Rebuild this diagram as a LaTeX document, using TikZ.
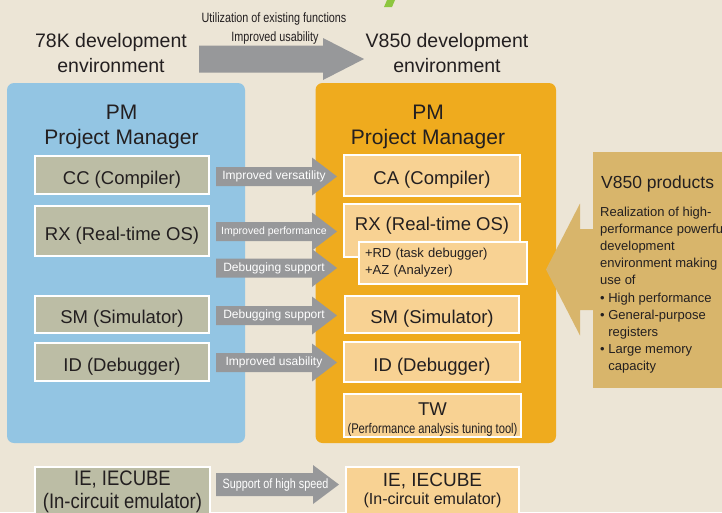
\documentclass[tikz,border=0pt]{standalone}
\usepackage{fontspec}
\setmainfont{Liberation Sans}
\newfontfamily\narrowfont[FakeStretch=0.8]{Liberation Sans}
\newfontfamily\iefont[FakeStretch=0.88]{Liberation Sans}

\definecolor{bgbeige}{RGB}{236,229,214}
\definecolor{pmblue}{RGB}{147,197,227}
\definecolor{pmorange}{RGB}{239,171,30}
\definecolor{oldbox}{RGB}{188,189,165}
\definecolor{newbox}{RGB}{248,210,147}
\definecolor{arrowgray}{RGB}{151,152,154}
\definecolor{prodgold}{RGB}{216,181,107}
\definecolor{leafgreen}{RGB}{141,198,63}
\definecolor{textdark}{RGB}{35,31,32}

\newcommand{\garrow}[7]{\fill[#7] (#1,#4-#5) -- (#2,#4-#5) -- (#2,#4-#6) -- (#3,#4) -- (#2,#4+#6) -- (#2,#4+#5) -- (#1,#4+#5) -- cycle;}

\tikzset{
  envtitle/.style={align=center, font=\fontsize{19.5}{25}\selectfont},
  pmtitle/.style={align=center, font=\fontsize{21}{25.7}\selectfont},
  pmpanel/.style={rounded corners=7pt, inner sep=0pt},
  oldtool/.style={draw=white, line width=1.2pt, fill=oldbox, inner sep=0pt, font=\fontsize{18.5}{22}\selectfont},
  newtool/.style={oldtool, fill=newbox},
  toolname/.style={text height=18pt, text depth=0pt},
  arrowlabel/.style={text=white, inner sep=0pt, font=\fontsize{12}{14}\selectfont},
  toplabel/.style={inner sep=0pt, font=\narrowfont\fontsize{13.5}{16}\selectfont}
}

\begin{document}
\begin{tikzpicture}[x=1pt, y=-1pt, text=textdark]
\useasboundingbox[fill=bgbeige] (0,0) rectangle (722,512);
\fill[leafgreen] (387,0) -- (395,0) -- (392,7) -- (384,7) -- cycle;

\node[envtitle] (oldenv) at (111,53) {78K development\\environment};
\node[envtitle] (newenv) at (447,53) {V850 development\\environment};
\garrow{199}{323}{364}{59}{13.5}{21}{arrowgray}
\node[toplabel] (reuse) at (274,19) {Utilization of existing functions};
\node[toplabel] (easier) at (275,38) {Improved usability};

\node[pmpanel, fill=pmblue, minimum width=238pt, minimum height=360pt] (oldpm) at (126,263) {};
\node[pmpanel, fill=pmorange, minimum width=240.5pt, minimum height=360pt] (newpm) at (435.75,263) {};
\node[pmtitle] (oldpmtitle) at (121.5,127) {PM\\Project Manager};
\node[pmtitle] (newpmtitle) at (428,127) {PM\\Project Manager};

\node[oldtool, toolname, minimum width=174pt, minimum height=38pt] (cc) at (122,175) {CC (Compiler)};
\node[oldtool, toolname, minimum width=174pt, minimum height=50pt] (rxold) at (122,231) {RX (Real-time OS)};
\node[oldtool, toolname, minimum width=174pt, minimum height=37pt] (sm) at (122,314.5) {SM (Simulator)};
\node[oldtool, toolname, minimum width=174pt, minimum height=38pt] (id) at (122,362) {ID (Debugger)};
\node[oldtool, minimum width=175pt, minimum height=47pt] (ieold) at (122.5,490.5) {};
\node[align=center, inner sep=0pt, font=\iefont\fontsize{21}{23}\selectfont] (ieoldlabel) at (122.5,492) {IE, IECUBE\\(In-circuit emulator)};

\node[newtool, toolname, minimum width=176pt, minimum height=41pt] (ca) at (432,175.5) {CA (Compiler)};
\node[newtool, minimum width=176pt, minimum height=53pt] (rxnew) at (432,230.5) {};
\node[toolname, inner sep=0pt, font=\fontsize{18.5}{22}\selectfont] (rxnewlabel) at (432,221.5) {RX (Real-time OS)};
\node[newtool, align=left, text width=156pt, inner xsep=6pt, minimum height=42pt, font=\fontsize{13}{17}\selectfont] (rdaz) at (443,263) {+RD (task debugger)\\+AZ (Analyzer)};
\node[newtool, toolname, minimum width=174pt, minimum height=37pt] (smnew) at (432,314.5) {SM (Simulator)};
\node[newtool, toolname, minimum width=176pt, minimum height=40pt] (idnew) at (432,362) {ID (Debugger)};
\node[newtool, minimum width=177pt, minimum height=43pt] (tw) at (432.5,415.5) {};
\node[align=center, inner sep=0pt, font=\fontsize{18.5}{18.5}\selectfont] (twlabel) at (432.5,419.5) {TW\\{\narrowfont\fontsize{14}{17}\selectfont(Performance analysis tuning tool)}};
\node[newtool, minimum width=173pt, minimum height=47pt] (ienew) at (432.5,490.5) {};
\node[align=center, inner sep=0pt, font=\fontsize{19}{17.5}\selectfont] (ienewlabel) at (432.5,490.5) {IE, IECUBE\\{\fontsize{16}{17.5}\selectfont(In-circuit emulator)}};

\foreach \y/\nm/\txt in {176.5/versatility/Improved versatility,
    231.5/performance/{\fontsize{10.5}{12}\selectfont Improved performance},
    268/debugrd/Debugging support,
    315.5/debugsm/Debugging support,
    362.5/usability/Improved usability} {
  \garrow{216}{312}{337}{\y}{9.5}{19}{arrowgray}
  \node[arrowlabel] (\nm) at (274,\y) {\txt};
}
\garrow{216}{313}{339}{484.5}{11.5}{19.5}{arrowgray}
\node[arrowlabel, font=\narrowfont\fontsize{13.5}{16}\selectfont] (speed) at (275.5,484.5) {Support of high speed};

\garrow{600}{580}{546}{269.5}{40.5}{66}{prodgold}
\node[fill=prodgold, inner sep=0pt, anchor=north west, minimum width=140pt, minimum height=236pt] (prod) at (593,152) {};
\node[inner sep=0pt, anchor=base west, font=\fontsize{17.5}{20}\selectfont] (prodtitle) at (601,188) {V850 products};
\node[inner sep=0pt, anchor=north west, align=left, font=\fontsize{13}{17.2}\selectfont] (prodtext) at (600,206.5) {Realization of high-\\performance powerful\\development\\environment making\\use of\\\textbullet\ High performance\\\textbullet\ General-purpose\\\phantom{\textbullet}\ registers\\\textbullet\ Large memory\\\phantom{\textbullet}\ capacity};
\end{tikzpicture}
\end{document}
